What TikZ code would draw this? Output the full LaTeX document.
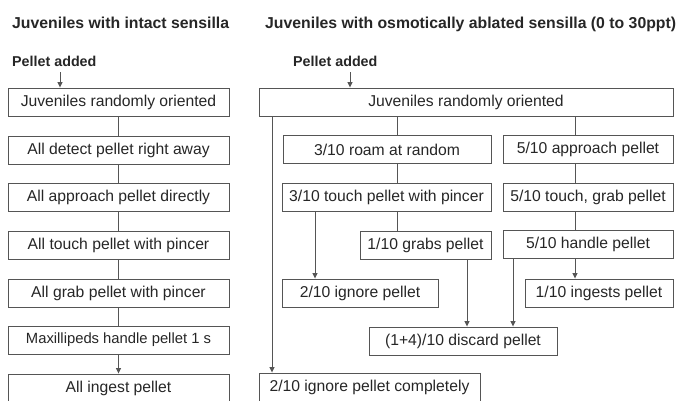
\documentclass[tikz,border=0pt]{standalone}
\usepackage{fontspec}
\setmainfont{Liberation Sans}
\usetikzlibrary{arrows.meta}
\definecolor{linegray}{HTML}{555555}
\definecolor{textgray}{HTML}{262626}
\tikzset{
  px/.style={x=1pt,y=-1pt},
  box/.style={draw=linegray, line width=0.9pt, rectangle, inner sep=0pt, minimum height=28pt, text=textgray, font=\fontsize{15.7}{18}\selectfont},
  smallbox/.style={box, font=\fontsize{14.8}{18}\selectfont},
  title/.style={anchor=base west, inner sep=0pt, text=textgray, font=\fontsize{15.8}{18}\selectfont\bfseries},
  sub/.style={anchor=base west, inner sep=0pt, text=textgray, font=\fontsize{14.3}{17}\selectfont\bfseries},
  conn/.style={draw=linegray, line width=0.9pt},
  arr/.style={conn, -{Triangle[length=5.5pt,width=5pt]}},
}
\begin{document}
\begin{tikzpicture}[px]
\useasboundingbox (0,0) rectangle (676,400);
\clip (0,0) rectangle (676,400);
% left column
\node[title] (t1) at (12,28) {Juveniles with intact sensilla};
\node[sub] (p1) at (12,66) {Pellet added};
\node[box, minimum width=221pt] (l1) at (118.5,102) {Juveniles randomly oriented};
\node[box, minimum width=221pt] (l2) at (118.5,150) {All detect pellet right away};
\node[box, minimum width=221pt] (l3) at (118.5,197.5) {All approach pellet directly};
\node[box, minimum width=221pt] (l4) at (118.5,245.5) {All touch pellet with pincer};
\node[box, minimum width=221pt] (l5) at (118.5,293) {All grab pellet with pincer};
\node[smallbox, minimum width=221pt] (l6) at (118.5,340) {Maxillipeds handle pellet 1 s};
\node[box, minimum width=221pt] (l7) at (118.5,388) {All ingest pellet};
\coordinate (pa1) at (60,72);
\draw[arr] (pa1) -- (pa1 |- l1.north);
\draw[conn] (l1) -- (l2);
\draw[conn] (l2) -- (l3);
\draw[conn] (l3) -- (l4);
\draw[conn] (l4) -- (l5);
\draw[conn] (l5) -- (l6);
\draw[arr] (l6) -- (l7);
% right column
\node[title] (t2) at (265,28) {Juveniles with osmotically ablated sensilla (0 to 30ppt)};
\node[sub] (p2) at (293,66) {Pellet added};
\node[box, minimum width=414pt] (big) at (466,102) {Juveniles randomly oriented};
\node[box, minimum width=208pt] (roam) at (387,149.5) {3/10 roam at random};
\node[box, minimum width=170pt] (appr) at (588,149.5) {5/10 approach pellet};
\node[box, minimum width=209pt] (tpin) at (386.5,197.5) {3/10 touch pellet with pincer};
\node[box, minimum width=170pt] (tgrab) at (588,197.5) {5/10 touch, grab pellet};
\node[box, minimum width=131pt] (grabs) at (425.5,245) {1/10 grabs pellet};
\node[box, minimum width=170pt] (handle) at (588,244.5) {5/10 handle pellet};
\node[box, minimum width=156pt] (ign) at (360,293) {2/10 ignore pellet};
\node[box, minimum width=148pt] (ingest) at (599,293) {1/10 ingests pellet};
\node[box, minimum width=188pt] (disc) at (463,341) {(1+4)/10 discard pellet};
\node[box, minimum width=221pt] (igncomp) at (369.5,387) {2/10 ignore pellet completely};
\coordinate (pa2) at (350,72);
\coordinate (xa) at (397,0);
\coordinate (xb) at (575,0);
\coordinate (xc) at (315,0);
\coordinate (xd) at (467,0);
\coordinate (xe) at (513,0);
\coordinate (xf) at (272,0);
\draw[arr] (pa2) -- (pa2 |- big.north);
\draw[conn] (big.south -| xa) -- (roam.north -| xa);
\draw[conn] (big.south -| xb) -- (appr.north -| xb);
\draw[conn] (roam.south -| xa) -- (tpin.north -| xa);
\draw[conn] (appr.south -| xb) -- (tgrab.north -| xb);
\draw[conn] (tpin.south -| xa) -- (grabs.north -| xa);
\draw[conn] (tgrab.south -| xb) -- (handle.north -| xb);
\draw[arr] (tpin.south -| xc) -- (ign.north -| xc);
\draw[arr] (handle.south -| xb) -- (ingest.north -| xb);
\draw[arr] (grabs.south -| xd) -- (disc.north -| xd);
\draw[arr] (handle.south -| xe) -- (disc.north -| xe);
\draw[arr] (big.south -| xf) -- (igncomp.north -| xf);
\end{tikzpicture}
\end{document}
